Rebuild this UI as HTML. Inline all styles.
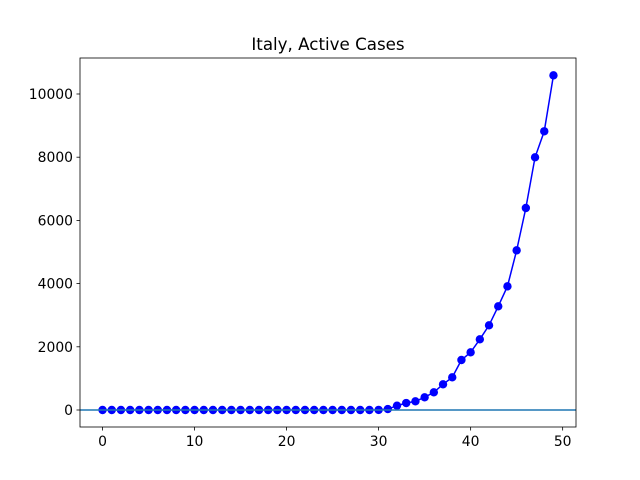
<!DOCTYPE html>
<html><head><meta charset="utf-8"><style>body{margin:0;background:#fff}svg{display:block}text{font-family:"DejaVu Sans","Liberation Sans",sans-serif;font-size:13.9px;fill:#000}</style></head>
<body>
<svg id="c" width="640" height="480">
<rect x="0" y="0" width="640" height="480" fill="#fff"/>
<text x="328" y="50" text-anchor="middle" style="font-size:16.7px">Italy, Active Cases</text>
<g id="plot"></g>
<rect x="80" y="58" width="496" height="369" fill="none" stroke="#000" stroke-width="0.8"/>
</svg>
<script>
const days = Array.from({length:50},(_,i)=>i);
const activeCases = [0,0,0,0,0,0,0,0,0,0,0,0,0,0,0,0,0,0,0,0,0,0,0,0,0,0,0,0,0,0,3,30,137,221,274,402,560,813,1034,1582,1826,2237,2680,3282,3914,5052,6392,7997,8820,10590];
const xTicks = [0,10,20,30,40,50];
const yTicks = [0,2000,4000,6000,8000,10000];
const X0=80,X1=576,Y0=58,Y1=427,xmin=-2.45,xmax=51.45,ymin=-538,ymax=11139;
const sx=v=>X0+(v-xmin)/(xmax-xmin)*(X1-X0);
const sy=v=>Y1-(v-ymin)/(ymax-ymin)*(Y1-Y0);
const NS="http://www.w3.org/2000/svg",g=document.getElementById('plot');
function mk(t,a){const e=document.createElementNS(NS,t);for(const k in a)e.setAttribute(k,a[k]);g.appendChild(e);return e;}
xTicks.forEach(t=>{
  const l=mk('line',{x1:sx(t),x2:sx(t),y1:Y1,y2:Y1+3.5,stroke:'#000','stroke-width':0.8});
  
  
  const tx=mk('text',{x:sx(t),y:Y1+19,'text-anchor':'middle'});tx.textContent=t;
  
  
});
yTicks.forEach(t=>{
  const l=mk('line',{x1:X0-3.5,x2:X0,y1:sy(t),y2:sy(t),stroke:'#000','stroke-width':0.8});
  
  
  const tx=mk('text',{x:X0-7,y:sy(t)+5,'text-anchor':'end'});tx.textContent=t;
  
  
});
const pl=mk('polyline',{points:days.map((d,i)=>sx(d)+','+sy(activeCases[i])).join(' '),fill:'none',stroke:'#0000ff','stroke-width':1.5});


days.forEach((d,i)=>{
  const c=mk('circle',{cx:sx(d),cy:sy(activeCases[i]),r:4.2,fill:'#0000ff'});
  
  
});
const z=mk('line',{x1:X0,x2:X1,y1:sy(0),y2:sy(0),stroke:'#1f77b4','stroke-width':1.5});


</script>
</body></html>
